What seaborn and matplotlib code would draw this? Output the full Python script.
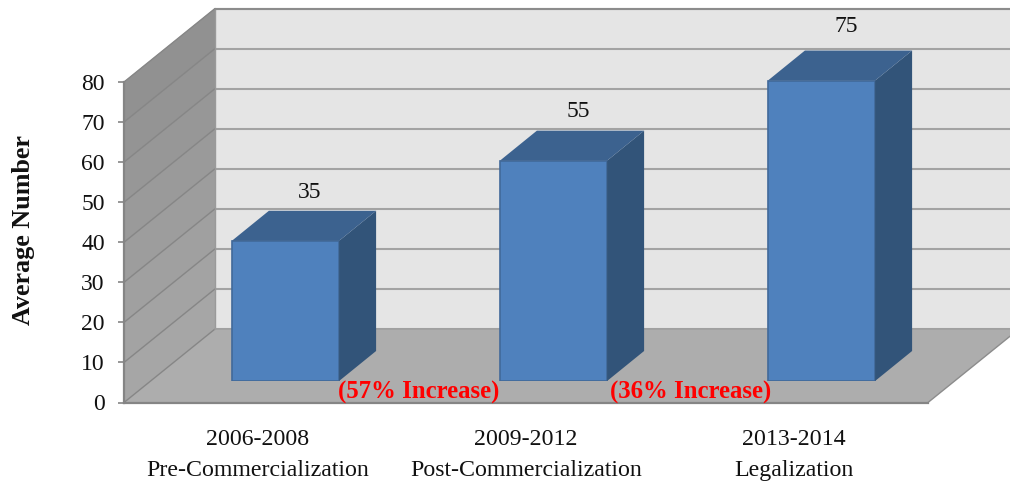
import matplotlib
matplotlib.use("Agg")
import matplotlib.pyplot as plt
from matplotlib.patches import Polygon
import seaborn as sns

categories = ["2006-2008\nPre-Commercialization",
              "2009-2012\nPost-Commercialization",
              "2013-2014\nLegalization"]
values = [35, 55, 75]
value_labels = ["35", "55", "75"]
label_lift = [12.0, 12.2, 13.5]
y_ticks = [0, 10, 20, 30, 40, 50, 60, 70, 80]
y_title = "Average Number"
increase_labels = ["(57% Increase)", "(36% Increase)"]
increase_x = [0.60, 1.615]

W, H = 1010, 484
PX_X = 268.0      # pixels per category
PX_Y = 4.006      # pixels per value unit
SERIF = ["Liberation Serif", "DejaVu Serif"]

sns.set_theme(style="white")
plt.rcParams["font.family"] = SERIF
fig = plt.figure(figsize=(W / 100, H / 100), dpi=100)
fig.patch.set_facecolor("white")


def rect(left, y_bottom, width, height):
    return [left / W, (H - y_bottom) / H, width / W, height / H]


# front plane of the chart box
ax = fig.add_axes(rect(124, 402.5, 3 * PX_X, 80 * PX_Y), zorder=1)
ax.set_facecolor("none")
ax.set_xlim(-0.5, 2.5)
ax.set_ylim(0, 80)

wall_dx = 91 / PX_X
wall_dy = 73.5 / PX_Y
x0, x1 = ax.get_xlim()
top = y_ticks[-1]


def poly(target, pts, color, z, edge="none", lw=0):
    target.add_patch(Polygon(pts, closed=True, facecolor=color, edgecolor=edge,
                             linewidth=lw, clip_on=False, zorder=z))


# back wall
poly(ax, [(x0 + wall_dx, wall_dy), (x1 + wall_dx, wall_dy),
          (x1 + wall_dx, top + wall_dy), (x0 + wall_dx, top + wall_dy)], "#e5e5e5", 0.5)
# left wall (stepped shading)
shades = ["#a6a6a6", "#a3a3a3", "#a0a0a0", "#9d9d9d", "#9a9a9a", "#979797", "#949494", "#919191"]
for lo, hi, shade in zip(y_ticks[:-1], y_ticks[1:], shades):
    poly(ax, [(x0, lo), (x0 + wall_dx, lo + wall_dy),
              (x0 + wall_dx, hi + wall_dy), (x0, hi)], shade, 0.6, edge=shade, lw=0.3)
# floor
poly(ax, [(x0, 0), (x1, 0), (x1 + wall_dx, wall_dy), (x0 + wall_dx, wall_dy)], "#adadad", 0.7)
# gridlines continuing over both walls
for t in y_ticks:
    ax.plot([x0 + wall_dx, x1 + wall_dx], [t + wall_dy] * 2, color="#a3a3a3", lw=1.5,
            clip_on=False, zorder=0.65, solid_capstyle="butt")
    ax.plot([x0, x0 + wall_dx], [t, t + wall_dy], color="#868686", lw=1.0,
            clip_on=False, zorder=0.8)
ax.plot([x0 + wall_dx] * 2, [wall_dy, top + wall_dy], color="#9a9a9a", lw=1.0,
        clip_on=False, zorder=0.8)
ax.plot([x0 + wall_dx, x1 + wall_dx], [top + wall_dy] * 2, color="#8c8c8c", lw=1.5,
        clip_on=False, zorder=0.8)
ax.plot([x0 + wall_dx, x1 + wall_dx], [wall_dy] * 2, color="#a0a0a0", lw=1.2,
        clip_on=False, zorder=0.8)
ax.plot([x1, x1 + wall_dx], [0, wall_dy], color="#8c8c8c", lw=1.0, clip_on=False, zorder=0.8)

sns.despine(ax=ax, top=True, right=True)
for side in ("left", "bottom"):
    ax.spines[side].set_color("#858585")
    ax.spines[side].set_linewidth(1.6)
ax.set_yticks(y_ticks)
ax.set_xticks(range(len(categories)))
ax.set_xticklabels(categories, fontsize=17.2, color="#111111", linespacing=1.65)
ax.tick_params(axis="x", length=0, pad=19)
ax.tick_params(axis="y", length=4.3, width=1.2, color="#858585", pad=9.5,
               labelsize=17, labelcolor="#111111", left=True)
fig.text(24 / W, 1 - 230 / H, y_title, rotation=90, ha="center", va="center",
         fontsize=18.8, fontweight="bold", color="#111111")

# bars stand on a plane set back from the front of the box
bar_ax = fig.add_axes(rect(151.5, 381, 3 * PX_X, 80 * PX_Y), zorder=2)
bar_ax.set_facecolor("none")
sns.barplot(x=categories, y=values, ax=bar_ax, color="#4f81bd", saturation=1,
            width=0.4, edgecolor="#41699a", linewidth=1.2)
bar_ax.set_xlim(-0.5, 2.5)
bar_ax.set_ylim(0, 80)
bar_ax.axis("off")

bar_dx = 37 / PX_X
bar_dy = 30 / PX_Y
for bar, text, lift in zip(list(bar_ax.patches), value_labels, label_lift):
    bx, bw, bh = bar.get_x(), bar.get_width(), bar.get_height()
    poly(bar_ax, [(bx + bw, 0), (bx + bw + bar_dx, bar_dy),
                  (bx + bw + bar_dx, bh + bar_dy), (bx + bw, bh)], "#325479", 1)
    poly(bar_ax, [(bx, bh), (bx + bw, bh),
                  (bx + bw + bar_dx, bh + bar_dy), (bx + bar_dx, bh + bar_dy)], "#3c628f", 1)
    bar_ax.text(bx + bw / 2 + 24.5 / PX_X, bh + lift, text, ha="center", va="center",
                fontsize=17, color="#111111", clip_on=False, zorder=4)

# the red labels sit above the bars, in front-plane coordinates
overlay = fig.add_axes(ax.get_position(), zorder=3)
overlay.set_xlim(ax.get_xlim())
overlay.set_ylim(ax.get_ylim())
overlay.axis("off")
for text, xpos in zip(increase_labels, increase_x):
    overlay.text(xpos, 2.55, text, ha="center", va="center", color="#ff0000",
                 fontsize=17.8, fontweight="bold", clip_on=False)

fig.savefig("out.png", dpi=100)
